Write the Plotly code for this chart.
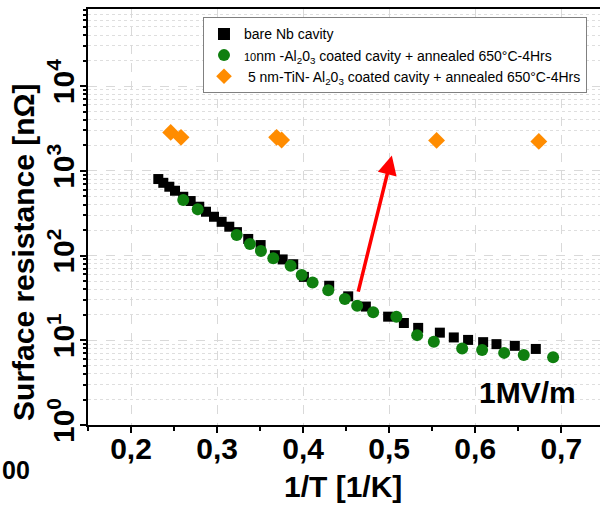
import numpy as np
import plotly.graph_objects as go

# Bare Nb cavity: 1/T [1/K] vs surface resistance [nOhm]
nb_x = [0.2317, 0.2375, 0.2445, 0.2511, 0.2607, 0.2693, 0.2793, 0.2871, 0.2964,
        0.3053, 0.3142, 0.3231, 0.3362, 0.3506, 0.3672, 0.3762, 0.3885, 0.4009,
        0.4303, 0.4524, 0.4729, 0.4988, 0.5171, 0.5337, 0.5589, 0.5751, 0.5917,
        0.6092, 0.6247, 0.6460, 0.6704]
nb_y = [800, 722, 649, 582, 494, 440, 377, 329, 287,
        250, 219, 189, 157, 133, 101, 90, 79, 56,
        44, 33, 25, 19, 16, 14, 12.3, 10.8, 10.1,
        9.5, 9.0, 8.6, 7.9]

# 10 nm Al2O3 coated cavity, annealed 650 C for 4 h
al_x = [0.2607, 0.2775, 0.3228, 0.3382, 0.3510, 0.3653, 0.3855, 0.3983, 0.4110,
        0.4292, 0.4485, 0.4628, 0.4814, 0.5084, 0.5325, 0.5519, 0.5848, 0.6080,
        0.6336, 0.6564, 0.6905]
al_y = [452, 351, 175, 137, 113, 93, 76, 59, 48,
        39, 30.7, 25.6, 21.4, 19.0, 11.5, 9.6, 8.0, 7.7,
        7.1, 6.7, 6.3]

# 5 nm TiN on Al2O3 coated cavity, annealed 650 C for 4 h
tin_x = [0.2461, 0.2581, 0.3692, 0.3750, 0.5551, 0.6739]
tin_y = [2843, 2483, 2483, 2307, 2287, 2224]

# Red arrow (tail -> head)
arrow_tail = (0.4636, 36)
arrow_head = (0.5031, 1520)

x_ticks = [0.2, 0.3, 0.4, 0.5, 0.6, 0.7]
x_ticklabels = ["0,2", "0,3", "0,4", "0,5", "0,6", "0,7"]
y_ticks = [1, 10, 100, 1000, 10000]
y_ticklabels = ["10<sup>0</sup>", "10<sup>1</sup>", "10<sup>2</sup>",
                "10<sup>3</sup>", "10<sup>4</sup>"]
y_minor = [m * 10 ** d for d in range(0, 5) for m in range(2, 10)]

FONT = "Arial, Liberation Sans, sans-serif"

fig = go.Figure()
fig.add_trace(go.Scatter(
    x=nb_x, y=nb_y, mode="markers", name="bare Nb cavity",
    marker=dict(symbol="square", size=10, color="black"),
))
fig.add_trace(go.Scatter(
    x=al_x, y=al_y, mode="markers",
    name="<span style='font-size:11px'>10</span>nm -Al<sub>2</sub>0<sub>3</sub> coated cavity + annealed 650°C-4Hrs",
    marker=dict(symbol="circle", size=12, color="#0f7f0f"),
))
fig.add_trace(go.Scatter(
    x=tin_x, y=tin_y, mode="markers",
    name=" 5 nm-TiN- Al<sub>2</sub>0<sub>3</sub> coated cavity + annealed 650°C-4Hrs",
    marker=dict(symbol="diamond", size=13, color="#ff8c00"),
))

fig.add_annotation(
    x=arrow_head[0], y=np.log10(arrow_head[1]),
    ax=arrow_tail[0], ay=np.log10(arrow_tail[1]),
    xref="x", yref="y", axref="x", ayref="y",
    text="", showarrow=True, arrowhead=2, arrowsize=1.1,
    arrowwidth=3.5, arrowcolor="#ff0000",
)

fig.add_annotation(
    x=0.859, y=0.077, xref="paper", yref="paper",
    xanchor="center", yanchor="middle",
    text="<b>1MV/m</b>", showarrow=False,
    font=dict(family=FONT, size=30, color="black"),
)
fig.add_annotation(
    x=0.498, y=-0.149, xref="paper", yref="paper",
    xanchor="center", yanchor="middle",
    text="<b>1/T [1/K]</b>", showarrow=False,
    font=dict(family=FONT, size=30, color="black"),
)
fig.add_annotation(
    x=-0.125, y=0.416, xref="paper", yref="paper",
    xanchor="center", yanchor="middle",
    text="<b>Surface resistance [nΩ]</b>", showarrow=False, textangle=-90,
    font=dict(family=FONT, size=30, color="black"),
)
fig.add_annotation(
    x=-0.1094, y=-0.108, xref="paper", yref="paper",
    xanchor="right", yanchor="middle",
    text="<b>00</b>", showarrow=False,
    font=dict(family=FONT, size=25, color="black"),
)

fig.update_xaxes(
    range=[0.15, 0.745],
    tickvals=x_ticks, ticktext=x_ticklabels,
    tickfont=dict(family=FONT, size=30, color="black", weight="bold"),
    ticks="outside", ticklen=6, tickwidth=1.5, tickcolor="black",
    ticklabelstandoff=-10,
    showline=True, linecolor="black", linewidth=2, mirror=True,
    showgrid=True, gridcolor="#d9d9d9", griddash="dash", gridwidth=1,
    minor=dict(tickvals=[0.15, 0.25, 0.35, 0.45, 0.55, 0.65], ticks="outside",
               ticklen=4, tickcolor="black", showgrid=False),
    zeroline=False,
)
fig.update_yaxes(
    type="log", range=[0, 4.91],
    tickvals=y_ticks, ticktext=y_ticklabels, tickangle=-90,
    tickfont=dict(family=FONT, size=30, color="black", weight="bold"),
    ticks="outside", ticklen=6, tickwidth=1.5, tickcolor="black",
    ticklabelstandoff=-6,
    showline=True, linecolor="black", linewidth=2,
    showgrid=True, gridcolor="#d9d9d9", griddash="dash", gridwidth=1,
    minor=dict(tickvals=y_minor, ticks="outside", ticklen=3, tickcolor="black",
               showgrid=True, gridcolor="#dedede", griddash="dot", gridwidth=1),
    zeroline=False,
)

fig.update_layout(
    width=600, height=506,
    margin=dict(l=88, r=0, t=9, b=81),
    paper_bgcolor="white", plot_bgcolor="white",
    showlegend=True,
    legend=dict(
        x=0.2246, y=0.98, xanchor="left", yanchor="top",
        bgcolor="white", bordercolor="#808080", borderwidth=1,
        font=dict(family=FONT, size=14, color="black"),
        tracegroupgap=0, itemsizing="constant",
    ),
)

fig.write_html("out.html")
